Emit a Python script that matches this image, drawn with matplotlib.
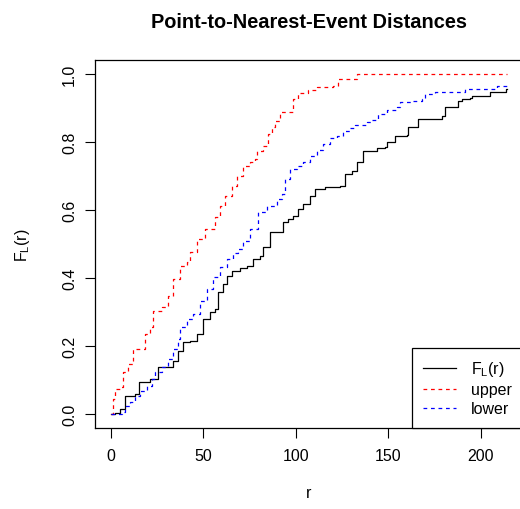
import matplotlib
matplotlib.use("Agg")
import matplotlib.pyplot as plt

plt.rcParams['font.family'] = ['Liberation Sans', 'DejaVu Sans']
plt.rcParams['mathtext.fontset'] = 'custom'
plt.rcParams['mathtext.rm'] = 'Liberation Sans'

# step knots: (r, F)
obs_r = [0, 2.2, 4.9, 7.6, 13, 15.1, 21.1, 25.4, 30.8, 33.5, 36.2, 38.9, 42.7,
         46.5, 49.7, 53.5, 56.2, 57.8, 60.5, 62.7, 65.4, 69.7, 73.5, 76.8, 80.5,
         82.2, 85.9, 93, 95.7, 98.4, 101.1, 103.8, 107.6, 110.3, 115.7, 123.8,
         126.5, 130.3, 133, 136.2, 143.8, 148.1, 149.2, 153.5, 160, 160.5, 166,
         178.9, 180.5, 187.6, 189.7, 194.1, 195.1, 204.9, 213.5, 214]
obs_f = [0, 0.003, 0.015, 0.053, 0.059, 0.094, 0.103, 0.138, 0.138, 0.156,
         0.185, 0.212, 0.215, 0.235, 0.279, 0.300, 0.309, 0.359, 0.382, 0.406,
         0.421, 0.429, 0.435, 0.456, 0.465, 0.491, 0.535, 0.565, 0.574, 0.582,
         0.603, 0.618, 0.641, 0.662, 0.668, 0.671, 0.706, 0.715, 0.741, 0.774,
         0.782, 0.785, 0.800, 0.818, 0.821, 0.844, 0.868, 0.876, 0.903, 0.921,
         0.926, 0.929, 0.935, 0.947, 0.956, 0.956]

upper_r = [0, 1.1, 2.2, 4.9, 6.5, 9.2, 11.9, 18.4, 21.1, 22.7, 27.6, 30.8,
           33.5, 37.3, 41.1, 42.7, 46.5, 50.8, 56.2, 58.9, 61.6, 65.4, 68.1,
           71.4, 75.1, 77.8, 78.9, 82.2, 84.9, 87, 88.6, 91.4, 98.4, 101.1,
           106.5, 111.4, 120, 122.7, 133, 214]
upper_f = [0, 0.044, 0.074, 0.079, 0.124, 0.147, 0.191, 0.235, 0.256, 0.303,
           0.315, 0.347, 0.397, 0.435, 0.447, 0.476, 0.515, 0.544, 0.579,
           0.612, 0.641, 0.671, 0.700, 0.729, 0.741, 0.750, 0.774, 0.788,
           0.824, 0.844, 0.862, 0.888, 0.926, 0.944, 0.953, 0.962, 0.965,
           0.985, 1.0, 1.0]

lower_r = [0, 5.9, 7.6, 10.3, 13, 15.7, 19.5, 22.2, 23.8, 27.6, 30.8, 33.5,
           36.2, 37.3, 41.1, 44.3, 48.1, 51.9, 55.1, 58.9, 62.7, 65.9, 68.6,
           71.4, 75.1, 79.5, 84.3, 89.7, 92.4, 94.1, 96.8, 100.5, 103.8, 107.6,
           111.4, 114.6, 118.4, 122.2, 125.4, 129.2, 131.9, 138.4, 141.1,
           144.3, 149.2, 154.6, 156.2, 162.7, 168.1, 169.7, 175.1, 191.4,
           208.6, 214]
lower_f = [0, 0.006, 0.024, 0.035, 0.053, 0.068, 0.082, 0.103, 0.124, 0.138,
           0.162, 0.191, 0.221, 0.256, 0.279, 0.294, 0.332, 0.368, 0.403,
           0.432, 0.456, 0.474, 0.485, 0.509, 0.544, 0.594, 0.612, 0.632,
           0.647, 0.691, 0.721, 0.729, 0.741, 0.759, 0.776, 0.794, 0.812,
           0.818, 0.832, 0.841, 0.850, 0.859, 0.865, 0.882, 0.894, 0.903,
           0.918, 0.921, 0.926, 0.941, 0.947, 0.956, 0.965, 0.965]

x_ticks = [0, 50, 100, 150, 200]
y_ticks = [0.0, 0.2, 0.4, 0.6, 0.8, 1.0]

fig = plt.figure(figsize=(5.2, 5.1), dpi=100)
ax = fig.add_axes([95 / 520, 81.4 / 510, 427.7 / 520, 367.2 / 510])

ax.plot(obs_r, obs_f, color='black', lw=0.9, drawstyle='steps-post',
        label=r'$\mathregular{F_L(r)}$')
ax.plot(upper_r, upper_f, color='red', lw=0.9, ls=(0, (3, 3)),
        drawstyle='steps-post', label='upper')
ax.plot(lower_r, lower_f, color='blue', lw=0.9, ls=(0, (3, 3)),
        drawstyle='steps-post', label='lower')

ax.set_xlim(-8.56, 222.56)
ax.set_ylim(-0.04, 1.04)
ax.set_xticks(x_ticks)
ax.set_yticks(y_ticks)
ax.set_yticklabels([f"{v:.1f}" for v in y_ticks], rotation=90, va='center')
ax.tick_params(length=7, width=0.8, labelsize=11.5)
ax.tick_params(axis='x', pad=8)
ax.tick_params(axis='y', pad=6)
for s in ax.spines.values():
    s.set_linewidth(0.9)

leg = ax.legend(loc='lower right', fontsize=11.5, borderaxespad=0,
                fancybox=False, edgecolor='black', framealpha=1,
                handlelength=2.1, handletextpad=0.9, labelspacing=0.25,
                borderpad=0.7)
leg.get_frame().set_linewidth(0.9)

fig.text(308.8 / 520, 1 - 22 / 510, "Point-to-Nearest-Event Distances",
         ha='center', va='center', fontsize=14.4, fontweight='bold')
fig.text(308.8 / 520, 1 - 494 / 510, "r", ha='center', va='center',
         fontsize=11.5)
fig.text(22 / 520, 1 - 245 / 510, r'$\mathregular{F_L(r)}$', ha='center',
         va='center', rotation=90, fontsize=11.5)

fig.savefig("out.png", dpi=100)
